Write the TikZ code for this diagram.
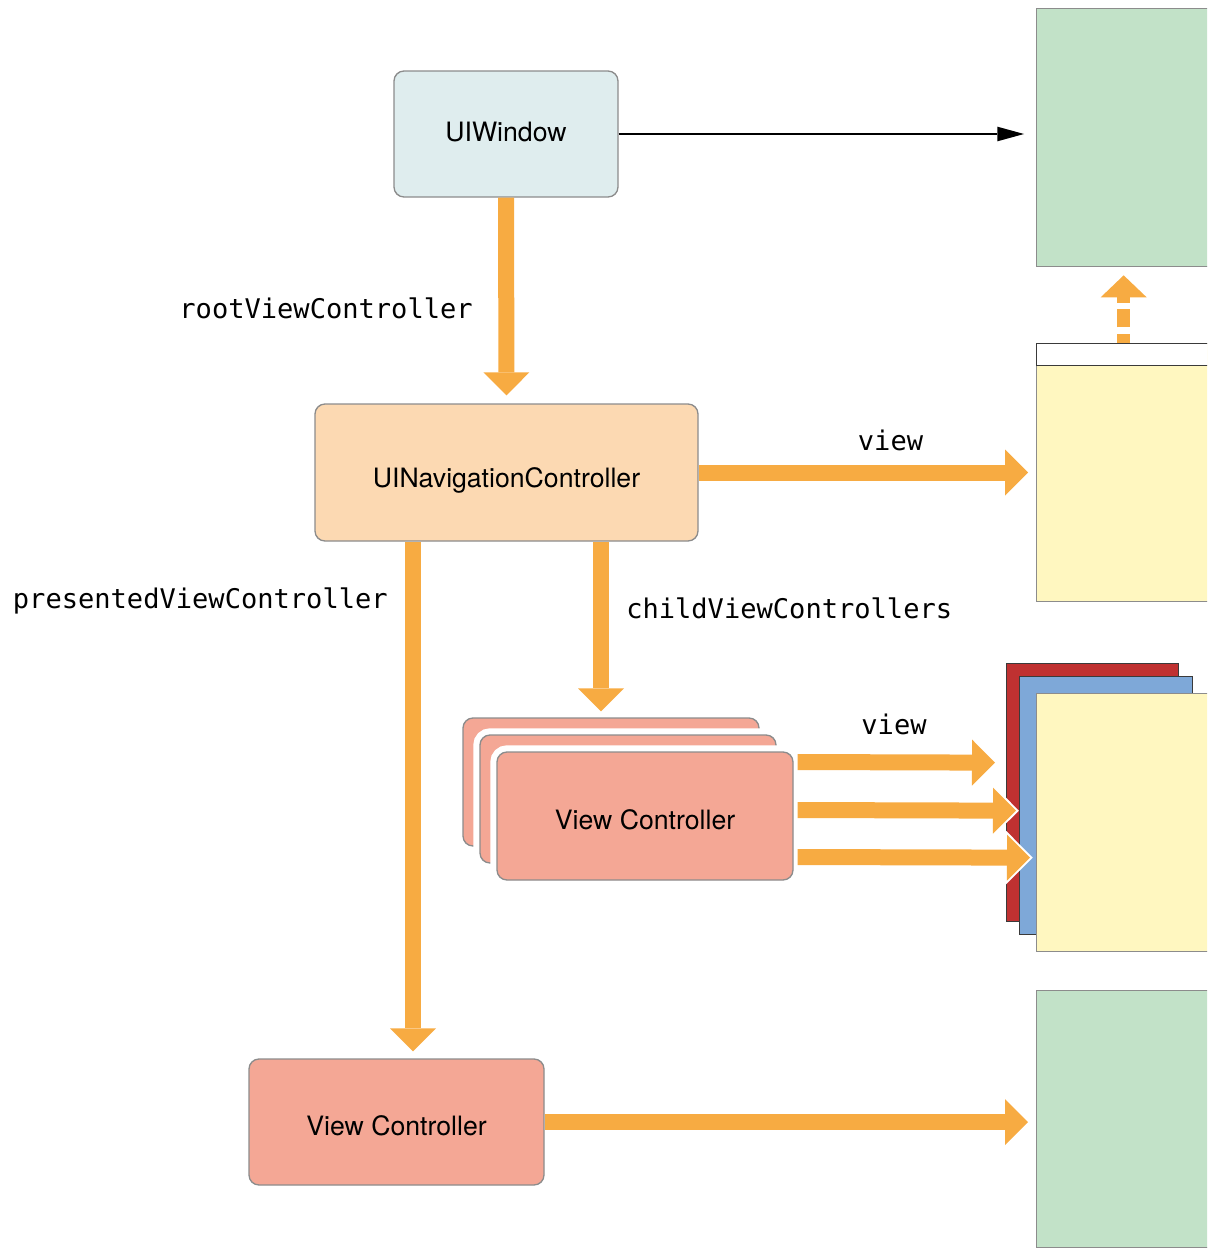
\documentclass[tikz,border=0pt]{standalone}
\usepackage{fontspec}
\setmainfont{TeX Gyre Heros}
\setmonofont{DejaVu Sans Mono}
\usetikzlibrary{arrows.meta,calc}

\definecolor{arrorange}{HTML}{F7AB42}
\definecolor{boxgray}{HTML}{8C8C8C}
\definecolor{darkline}{HTML}{3A3A3A}
\definecolor{winfill}{HTML}{DFEDEE}
\definecolor{navfill}{HTML}{FCD9B2}
\definecolor{vcfill}{HTML}{F4A795}
\definecolor{greenfill}{HTML}{C2E2C8}
\definecolor{yellowfill}{HTML}{FFF7C0}
\definecolor{redfill}{HTML}{BF3131}
\definecolor{bluefill}{HTML}{7EA8D8}

\begin{document}
\begin{tikzpicture}[x=0.75pt,y=0.75pt,yscale=-1,xscale=1,
  box/.style={draw=boxgray, line width=1pt, rounded corners=7.5pt, inner sep=0pt,
    font=\fontsize{20}{24}\selectfont, text depth=0pt},
  vcbox/.style={box, fill=vcfill, minimum width=222pt, minimum height=96pt, text height=20.25pt},
  vcstack/.style={vcbox, preaction={draw=white, line width=10pt}},
  viewrect/.style={draw=boxgray, line width=1pt, anchor=north west, inner sep=0pt,
    minimum width=130.5pt, minimum height=193.5pt},
  lbl/.style={font=\ttfamily\fontsize{20.3}{24}\selectfont, inner sep=0pt},
  fat/.style={draw=arrorange, line width=12pt,
    -{Triangle[width=34.5pt,length=17.25pt,line width=0pt]}},
  halo/.style={draw=white, line width=12pt,
    -{Triangle[width=40pt,length=20pt,line width=0pt]}},
  fatdash/.style={draw=arrorange, line width=9.75pt,
    dash pattern=on 13.5pt off 5pt, dash phase=6.75pt,
    -{Triangle[width=34.5pt,length=16.5pt,line width=0pt]}},
  thin/.style={draw=black, line width=1.5pt,
    -{Triangle[width=11pt,length=20pt,line width=0pt]}}]
\clip (0,0) rectangle (1207,1249);

%Shape: Views on the right
\node[viewrect, fill=greenfill] (winview) at (1036,8) {};
\node[viewrect, fill=yellowfill] (navview) at (1036,343) {};
\node[viewrect, fill=white, draw=darkline, minimum height=16.5pt] (navbar) at (1036,343) {};
\node[viewrect, fill=redfill, draw=darkline, minimum width=129pt] (redview) at (1006,663) {};
\node[viewrect, fill=bluefill, draw=darkline, minimum width=129.75pt] (blueview) at (1019,676) {};
\node[viewrect, fill=yellowfill] (yelview) at (1036,693) {};
\node[viewrect, fill=greenfill, minimum height=192.75pt] (botview) at (1036,990) {};

%Shape: Controllers
\node[box, fill=winfill, minimum width=168pt, minimum height=94.5pt, text height=11.25pt] (win) at (506,134) {UIWindow};
\node[box, fill=navfill, minimum width=287.25pt, minimum height=102.75pt, text height=22.5pt] (nav) at (506.5,472.5) {UINavigationController};
\node[vcbox] (vcback) at (611,782) {};
\node[vcstack] (vcmid) at (628,799) {};
\node[vcstack] (vcfront) at (645,816) {View Controller};
\node[vcbox, minimum width=221.25pt, minimum height=94.5pt] (vc2) at (396.5,1122) {View Controller};

\coordinate (childx) at (601,0);
\coordinate (presx) at (413,0);

%Straight Lines
\draw[thin, shorten >=9pt] (win.east) -- (win.east -| winview.west);
\draw[fat, shorten >=6pt] (win.south) -- (nav.north);
\draw[fat, shorten >=6pt] (nav.east) -- (nav.east -| navview.west);
\draw[fatdash, shorten >=6pt] (navview.north) -- (winview.south);
\draw[fat, shorten >=4.5pt] (nav.south -| childx) -- (vcback.north -| childx);
\draw[fat, shorten >=5.25pt] (nav.south -| presx) -- (vc2.north -| presx);
\draw[fat, shorten >=6pt] (vc2.east) -- (vc2.east -| botview.west);

%Straight Lines: child views
\draw[fat, shorten <=3pt, shorten >=8.25pt] ($(vcfront.east)+(0,-54)$) -- ($(redview.west)+(0,-30)$);
\draw[halo, shorten <=3pt, shorten >=0.1pt] ($(vcfront.east)+(0,-6)$) -- ($(blueview.west)+(0,5)$);
\draw[fat, shorten <=3pt, shorten >=2.25pt] ($(vcfront.east)+(0,-6)$) -- ($(blueview.west)+(0,5)$);
\draw[halo, shorten <=3pt, shorten >=2.4pt] ($(vcfront.east)+(0,41)$) -- ($(yelview.west)+(0,35)$);
\draw[fat, shorten <=3pt, shorten >=4.5pt] ($(vcfront.east)+(0,41)$) -- ($(yelview.west)+(0,35)$);

% Text Node
\node[lbl, anchor=base east] (rootlbl) at (473,318) {rootViewController};
% Text Node
\node[lbl, anchor=base] (viewlbl) at (890.5,450) {view};
% Text Node
\node[lbl, anchor=base east] (preslbl) at (388,608) {presentedViewController};
% Text Node
\node[lbl, anchor=base west] (childlbl) at (626,618) {childViewControllers};
% Text Node
\node[lbl, anchor=base] (viewlblb) at (894,734) {view};
\end{tikzpicture}
\end{document}
